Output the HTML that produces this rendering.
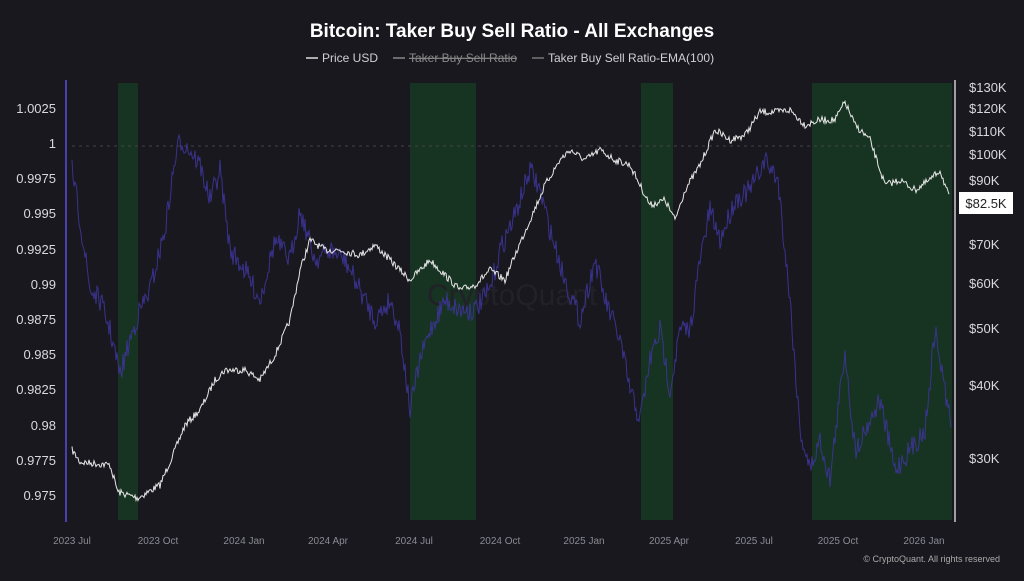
<!DOCTYPE html>
<html><head><meta charset="utf-8"><style>
html,body{margin:0;padding:0;background:#19181f;}
body{width:1024px;height:576px;overflow:hidden;font-family:"Liberation Sans",sans-serif;}
</style></head><body>
<svg id="s" width="1024" height="576" xmlns="http://www.w3.org/2000/svg" font-family="Liberation Sans, sans-serif">
<rect width="1024" height="576" fill="#19181f"/>
<text x="512" y="37" fill="#fff" font-size="19" font-weight="bold" text-anchor="middle">Bitcoin: Taker Buy Sell Ratio - All Exchanges</text>
<g font-size="12" fill="#cfcfd6">
<line x1="306" y1="58" x2="318" y2="58" stroke="#ddd" stroke-width="1.5"/>
<text x="322" y="62">Price USD</text>
<line x1="393" y1="58" x2="405" y2="58" stroke="#888" stroke-width="1.5"/>
<text x="409" y="62" fill="#888" text-decoration="line-through">Taker Buy Sell Ratio</text>
<line x1="532" y1="58" x2="544" y2="58" stroke="#777" stroke-width="1.5"/>
<text x="548" y="62">Taker Buy Sell Ratio-EMA(100)</text>
</g>
<g fill="#173322">
<rect x="118" y="83" width="20" height="437"/>
<rect x="410" y="83" width="66" height="437"/>
<rect x="641" y="83" width="32" height="437"/>
<rect x="812" y="83" width="140" height="437"/>
</g>
<line x1="72" y1="146" x2="952" y2="146" stroke="#444" stroke-dasharray="3,4"/>
<line x1="66" y1="80" x2="66" y2="522" stroke="#4a3fb0" stroke-width="2"/>
<line x1="955" y1="80" x2="955" y2="522" stroke="#ccc" stroke-width="1.5"/>
<g font-size="13" fill="#d8d8de" text-anchor="end">
<text x="56" y="113">1.0025</text><text x="56" y="148">1</text><text x="56" y="183">0.9975</text>
<text x="56" y="218">0.995</text><text x="56" y="254">0.9925</text><text x="56" y="289">0.99</text>
<text x="56" y="324">0.9875</text><text x="56" y="359">0.985</text><text x="56" y="394">0.9825</text>
<text x="56" y="430">0.98</text><text x="56" y="465">0.9775</text><text x="56" y="500">0.975</text>
</g>
<g font-size="13" fill="#d8d8de">
<text x="969" y="92">$130K</text><text x="969" y="113">$120K</text><text x="969" y="136">$110K</text>
<text x="969" y="159">$100K</text><text x="969" y="185">$90K</text><text x="969" y="249">$70K</text>
<text x="969" y="288">$60K</text><text x="969" y="333">$50K</text><text x="969" y="390">$40K</text>
<text x="969" y="463">$30K</text>
</g>
<g font-size="10" fill="#8a8a94" text-anchor="middle">
<text x="72" y="544">2023 Jul</text><text x="158" y="544">2023 Oct</text><text x="244" y="544">2024 Jan</text>
<text x="328" y="544">2024 Apr</text><text x="414" y="544">2024 Jul</text><text x="500" y="544">2024 Oct</text>
<text x="584" y="544">2025 Jan</text><text x="669" y="544">2025 Apr</text><text x="754" y="544">2025 Jul</text>
<text x="838" y="544">2025 Oct</text><text x="924" y="544">2026 Jan</text>
</g>
<text x="1000" y="562" font-size="9" fill="#aaa" text-anchor="end">© CryptoQuant. All rights reserved</text>
<text x="512" y="305" font-size="30" fill="#222128" text-anchor="middle">CryptoQuant</text>
<path id="ema" fill="none" stroke="#3d3598" stroke-width="1" opacity="0.9"/>
<path id="price" fill="none" stroke="#e8e8e8" stroke-width="1"/>
<rect x="959" y="192" width="54" height="22" fill="#fff"/>
<text x="986" y="208" font-size="13" fill="#222" text-anchor="middle">$82.5K</text>
</svg>
<script>
var seed=7;function r(){seed=(seed*16807)%2147483647;return seed/2147483647-0.5;}
function gen(pts,noise){var d="";var first=true;for(var i=0;i<pts.length-1;i++){var a=pts[i],b=pts[i+1];for(var x=a[0];x<b[0];x+=1){var t=(x-a[0])/(b[0]-a[0]);var y=a[1]+(b[1]-a[1])*t+r()*noise;d+=(first?"M":"L")+x+","+y.toFixed(1);first=false;}}return d;}
var P=[[72,450],[80,462],[110,465],[118,492],[138,498],[160,485],[175,450],[185,425],[200,410],[215,380],[225,370],[245,370],[260,380],[275,355],[290,320],[300,270],[310,240],[325,250],[340,250],[360,255],[375,245],[395,265],[410,280],[430,260],[445,275],[460,290],[475,285],[490,270],[505,280],[515,255],[530,220],[545,185],[560,160],[570,150],[585,160],[600,150],[615,160],[630,165],[640,185],[650,205],[665,200],[675,220],[685,190],[700,165],[715,130],[730,140],[745,135],[760,112],[775,112],[790,110],[805,125],[820,120],[835,120],[845,102],[855,125],[870,140],[885,185],[900,180],[915,190],[930,180],[940,170],[950,200]];
var E=[[72,170],[80,220],[90,290],[100,300],[110,330],[120,375],[130,340],[140,310],[150,290],[165,230],[175,160],[180,140],[190,150],[200,165],[210,200],[220,170],[230,250],[245,270],[260,300],[275,240],[290,260],[300,210],[315,260],[330,250],[345,260],[360,290],[375,320],[390,300],[400,330],[410,410],[420,360],[430,330],[445,300],[460,310],[475,310],[490,290],[500,250],[515,215],[530,170],[540,190],[550,230],[565,280],[580,320],[595,260],[605,300],[620,340],[630,390],[640,420],[650,360],[660,330],[670,390],[680,330],[690,330],[700,260],[710,210],[720,240],[735,200],[750,190],[765,160],[778,180],[790,300],[800,430],[810,470],[820,440],[830,480],[845,350],[855,450],[865,430],[880,400],[895,470],[910,450],[925,430],[935,330],[945,390],[952,430]];
document.getElementById("price").setAttribute("d",gen(P,7));
document.getElementById("ema").setAttribute("d",gen(E,22));
</script>
</body></html>
